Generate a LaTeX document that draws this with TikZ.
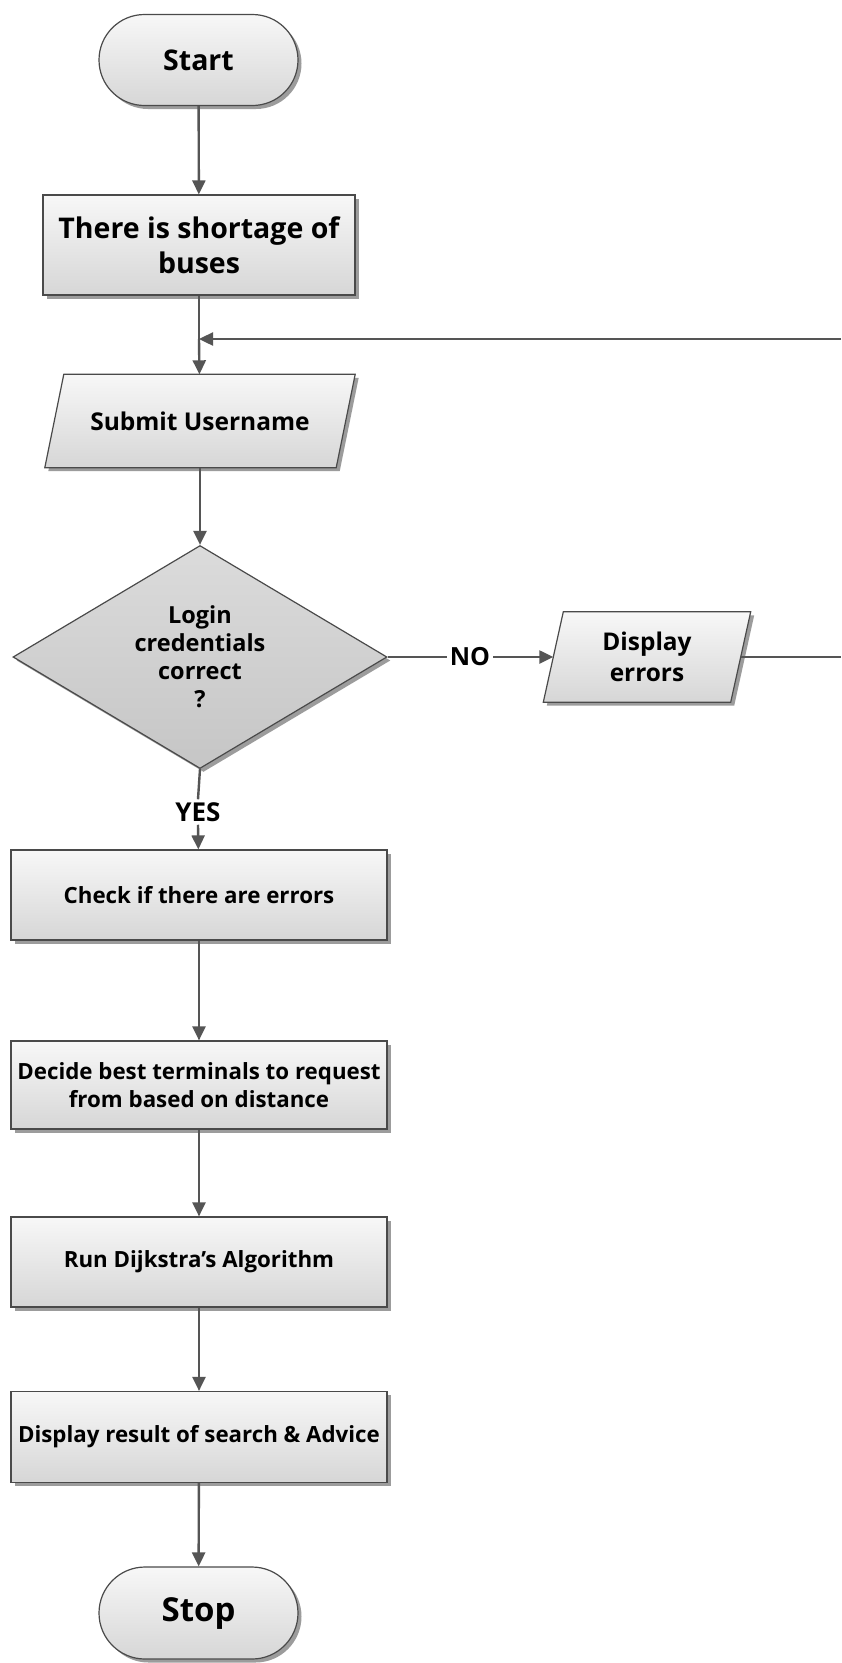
\documentclass[tikz,border=0pt]{standalone}
\usepackage{fontspec}
\setmainfont{Open Sans}
\usetikzlibrary{shapes.geometric,shapes.misc,arrows.meta,shadows,calc}
\pgfdeclarelayer{background}
\pgfsetlayers{background,main}
\definecolor{edgegray}{HTML}{4A4A4A}
\definecolor{linegray}{HTML}{555555}
% slanted input/output box drawn behind a text node of the same name
\newcommand{\slantbox}[2]{%
  \begin{pgfonlayer}{background}
    \path[boxfill] ($(#1.north west)+(#2,0)$) -- ($(#1.north east)+(#2,0)$)
      -- ($(#1.south east)-(#2,0)$) -- ($(#1.south west)-(#2,0)$) -- cycle;
  \end{pgfonlayer}}
\begin{document}
\begin{tikzpicture}[x=1pt,y=-1pt,
  boxfill/.style={draw=edgegray, line width=1.2pt,
    top color=gray!6, bottom color=gray!32,
    drop shadow={shadow xshift=3.5pt, shadow yshift=-3.5pt, fill=black!70, opacity=0.55}},
  txt/.style={align=center, inner sep=2pt, font=\bfseries\fontsize{22.3}{27.5}\selectfont},
  base/.style={boxfill, txt},
  terminal/.style={base, rounded rectangle, minimum width=203pt, minimum height=91pt},
  procbox/.style={base, rectangle, minimum width=376pt, minimum height=90pt},
  iotext/.style={txt, rectangle, draw=none},
  decision/.style={base, diamond, aspect=1.68, inner sep=0pt, minimum width=374pt,
    minimum height=223pt, top color=gray!28, bottom color=gray!45},
  lbl/.style={font=\bfseries\fontsize{25}{28}\selectfont, inner sep=3pt},
  conn/.style={draw=linegray, line width=2.4pt},
  arr/.style={conn, -{Triangle[length=14pt,width=13pt]}}
]
\begin{pgfonlayer}{background}
  \fill[white] (0,0) rectangle (841,1663);
\end{pgfonlayer}
\useasboundingbox (0,0) rectangle (841,1663);

% main column of steps
\node[terminal, font=\bfseries\fontsize{28.5}{32}\selectfont] (start) at (198.5,60) {Start};
\node[procbox, minimum width=312pt, minimum height=100pt,
  font=\bfseries\fontsize{28.5}{35}\selectfont] (short) at (199,245)
  {There is shortage of\\buses};
\node[iotext, minimum width=291pt, minimum height=93pt,
  font=\bfseries\fontsize{24.5}{28}\selectfont] (user) at (200,421) {Submit Username};
\slantbox{user}{9.5}
\node[decision, font=\bfseries\fontsize{23.5}{28}\selectfont] (login) at (200,657)
  {Login\\credentials\\correct\\?};
\node[procbox] (check) at (199,895) {Check if there are errors};
\node[procbox, minimum height=88pt] (decide) at (199,1085)
  {Decide best terminals to request\\from based on distance};
\node[procbox] (run) at (199,1262) {Run Dijkstra's Algorithm};
\node[procbox, minimum height=91pt] (result) at (199,1437) {Display result of search \& Advice};
\node[terminal, minimum height=92pt, font=\bfseries\fontsize{33}{36}\selectfont] (stop)
  at (198.5,1613) {Stop};

% error branch
\node[lbl] (no) at (470,657) {NO};
\node[iotext, minimum width=187pt, minimum height=90pt,
  font=\bfseries\fontsize{24.4}{31}\selectfont] (disp) at (647,657) {Display\\errors};
\slantbox{disp}{10}
\node[lbl, font=\bfseries\fontsize{26}{28}\selectfont] (yes) at (198,812) {YES};

% loop back into the input step
\coordinate (loopin) at (841,339);
\coordinate (loopout) at (841,657);
\coordinate (join) at (short.south |- loopin);

% connectors
\draw[arr] (start) -- (short);
\draw[conn] (short) -- (join);
\draw[arr] (join) -- (user);
\draw[arr] (loopin) -- (join);
\draw[arr] (user) -- (login);
\draw[conn] (login.east) -- (no.west);
\draw[arr] (no.east) -- (disp.west);
\draw[conn] (disp.east) -- (loopout);
\draw[conn] (login.south) -- (yes.north);
\draw[arr] (yes.south) -- (check);
\draw[arr] (check) -- (decide);
\draw[arr] (decide) -- (run);
\draw[arr] (run) -- (result);
\draw[arr] (result) -- (stop);
\end{tikzpicture}
\end{document}
